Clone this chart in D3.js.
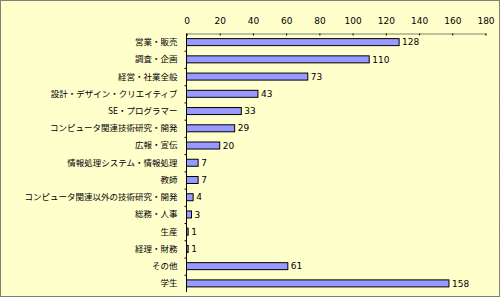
<!DOCTYPE html>
<html>
<head>
<meta charset="utf-8">
<script src="https://cdn.jsdelivr.net/npm/d3@7"></script>
<style>
  body { margin: 0; background: #fff; }
  svg { display: block; }
</style>
</head>
<body>
<svg id="chart" width="500" height="297"></svg>
<script>
var categories = ["営業・販売", "調査・企画", "経営・社業全般", "設計・デザイン・クリエイティブ", "SE・プログラマー",
  "コンピュータ関連技術研究・開発", "広報・宣伝", "情報処理システム・情報処理", "教師",
  "コンピュータ関連以外の技術研究・開発", "総務・人事", "生産", "経理・財務", "その他", "学生"];
var values = [128, 110, 73, 43, 33, 29, 20, 7, 7, 4, 3, 1, 1, 61, 158];
var tickValues = [0, 20, 40, 60, 80, 100, 120, 140, 160, 180];

var svg = d3.select("#chart"),
  margin = { top: 33.5, left: 186.5 },
  width = 299,
  height = 258.5;

svg.append("rect")
  .attr("x", 0.5).attr("y", 0.5)
  .attr("width", 499).attr("height", 296)
  .attr("fill", "#FFFFCC")
  .attr("stroke", "#000")
  .attr("stroke-dasharray", "1,1");

var g = svg.append("g").attr("transform", "translate(" + margin.left + "," + margin.top + ")");

var x = d3.scaleLinear().domain([0, 180]).range([0, width]);
var y = d3.scaleBand().domain(categories).range([0, height]).paddingInner(0.6).paddingOuter(0.3);
var yb = d3.scaleBand().domain(categories).range([0, height]);

// top value axis
var xAxis = g.append("g")
  .call(d3.axisTop(x).tickValues(tickValues).tickSize(-2).tickPadding(10));
xAxis.select(".domain").attr("stroke", "#000").attr("stroke-dasharray", "1,1");
xAxis.selectAll("text")
  .attr("font-family", "Verdana, 'DejaVu Sans', sans-serif")
  .attr("font-size", "9px")
  .attr("fill", "#000");

// left category axis line + ticks at band boundaries
g.append("line")
  .attr("x1", 0).attr("x2", 0).attr("y1", 0).attr("y2", height)
  .attr("stroke", "#000");
g.selectAll(".ytick")
  .data(categories.slice(1))
  .enter().append("line")
  .attr("class", "ytick")
  .attr("x1", -2).attr("x2", 0)
  .attr("y1", d => yb(d) + 0.5).attr("y2", d => yb(d) + 0.5)
  .attr("stroke", "#000");

g.selectAll(".cat")
  .data(categories)
  .enter().append("text")
  .attr("class", "cat")
  .attr("x", -9)
  .attr("y", d => yb(d) + yb.bandwidth() / 2)
  .attr("dy", "0.35em")
  .attr("text-anchor", "end")
  .attr("font-family", "'Noto Sans CJK JP', sans-serif")
  .attr("font-size", "8.5px")
  .attr("fill", "#000")
  .text(d => d);

g.selectAll(".bar")
  .data(values)
  .enter().append("rect")
  .attr("class", "bar")
  .attr("x", 0)
  .attr("y", (d, i) => yb(categories[i]) + yb.bandwidth() / 2 - 3.5)
  .attr("width", d => x(d))
  .attr("height", 7)
  .attr("fill", "#9999FF")
  .attr("stroke", "#000")
  .attr("stroke-width", 1);

g.selectAll(".val")
  .data(values)
  .enter().append("text")
  .attr("class", "val")
  .attr("x", d => x(d) + 3)
  .attr("y", (d, i) => yb(categories[i]) + yb.bandwidth() / 2)
  .attr("dy", "0.35em")
  .attr("font-family", "Verdana, 'DejaVu Sans', sans-serif")
  .attr("font-size", "9px")
  .attr("fill", "#000")
  .text(d => d);
</script>
</body>
</html>
